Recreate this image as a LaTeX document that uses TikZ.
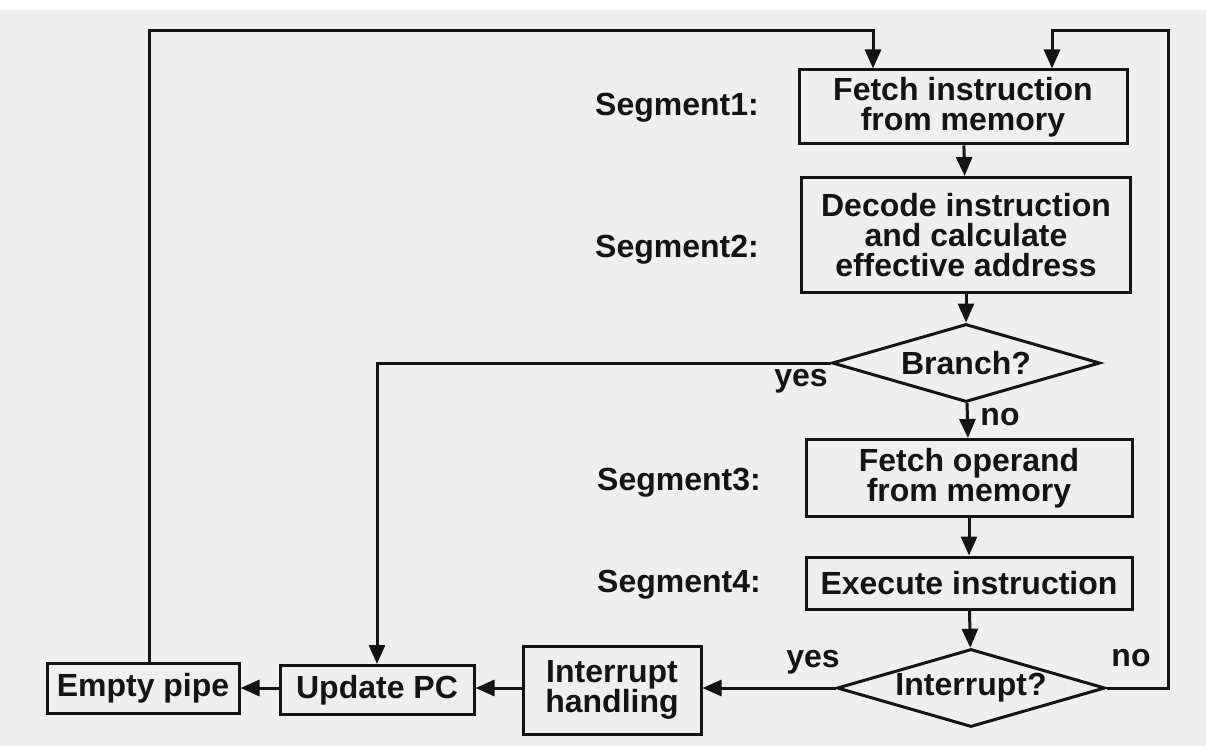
\documentclass[tikz,border=0pt]{standalone}
\usepackage{fontspec}
\setmainfont{Liberation Sans}
\usetikzlibrary{arrows.meta,shapes.geometric,calc}
\definecolor{paper}{RGB}{239,239,239}
\definecolor{ink}{RGB}{20,20,20}
\tikzset{
  every node/.style={font=\bfseries\fontsize{32}{30}\selectfont, text=ink},
  stage/.style={draw=ink, line width=3pt, fill=paper, align=center, inner sep=0pt},
  test/.style={draw=ink, line width=3pt, fill=paper, diamond, aspect=3.5,
    inner sep=0pt, minimum width=268pt, minimum height=78pt},
  flow/.style={draw=ink, line width=3pt, -{Triangle[length=19pt,width=16pt]}},
  tag/.style={inner sep=0pt},
}
\begin{document}
\begin{tikzpicture}[x=1pt,y=-1pt]
  % page
  \fill[paper] (0,0) rectangle (1206,746);
  \fill[white] (0,0) rectangle (1206,10);
  \useasboundingbox (0,0) rectangle (1206,746);

  % pipeline stages
  \node[stage, minimum width=328pt, minimum height=74pt] (fetch) at (963,107)
    {Fetch instruction\\from memory};
  \node[stage, minimum width=329pt, minimum height=115pt] (decode) at (966,235)
    {Decode instruction\\and calculate\\effective address};
  \node[test] (branch) at (966,363) {Branch?};
  \node[stage, minimum width=326pt, minimum height=77pt] (operand) at (969,478)
    {Fetch operand\\from memory};
  \node[stage, minimum width=326pt, minimum height=52pt] (execute) at (969,583)
    {Execute instruction};
  \node[test] (interrupt) at (971,688) {Interrupt?};
  \node[stage, minimum width=178pt, minimum height=88pt] (handling) at (612,690)
    {Interrupt\\handling};
  \node[stage, minimum width=194pt, minimum height=49pt] (updatepc) at (377,690)
    {Update PC};
  \node[stage, minimum width=192pt, minimum height=50pt] (empty) at (143,688)
    {Empty pipe};

  % segment labels
  \node[tag] (seg1) at (677,108) {Segment1:};
  \node[tag] (seg2) at (677,250) {Segment2:};
  \node[tag] (seg3) at (679,483) {Segment3:};
  \node[tag] (seg4) at (679,585) {Segment4:};

  % branch labels
  \node[tag] (byes) at (801,381) {yes};
  \node[tag] (bno) at (1000,417) {no};
  \node[tag] (iyes) at (813,662) {yes};
  \node[tag] (ino) at (1131,658) {no};

  % loop rails
  \coordinate (railL) at (149,31);
  \coordinate (railR) at (1168,31);

  % main flow
  \draw[flow] (fetch) -- (decode);
  \draw[flow] (decode) -- (branch);
  \draw[flow] (branch) -- (operand);
  \draw[flow] (operand) -- (execute);
  \draw[flow] (execute) -- (interrupt);

  % branch taken
  \draw[flow] (branch.west) -| (updatepc.north);

  % interrupt path
  \draw[flow] (interrupt.west) -- (interrupt.west -| handling.east);
  \draw[flow] (interrupt.west -| handling.west) -- (interrupt.west -| updatepc.east);
  \draw[flow] (interrupt.west -| updatepc.west) -- (interrupt.west -| empty.east);

  % back to instruction fetch
  \draw[flow] ([xshift=6pt]empty.north) -- (railL) -| ([xshift=-90pt]fetch.north);
  \draw[flow] (interrupt.east) -| (railR) -| ([xshift=89pt]fetch.north);
\end{tikzpicture}
\end{document}
